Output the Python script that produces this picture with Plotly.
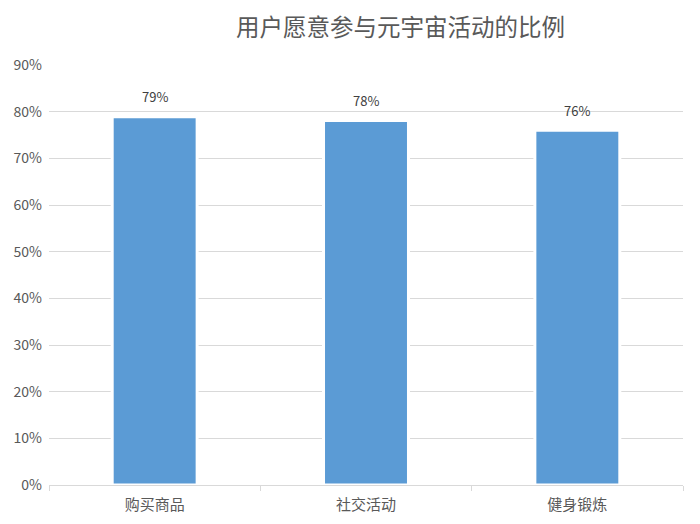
import plotly.graph_objects as go

# data
categories = ['购买商品', '社交活动', '健身锻炼']
ratios = [0.789, 0.781, 0.760]
labels = ['79%', '78%', '76%']
title_text = '用户愿意参与元宇宙活动的比例'

font_cn = 'Noto Sans CJK SC'
grey = '#595959'

fig = go.Figure()
fig.add_trace(go.Bar(
    x=categories,
    y=ratios,
    marker=dict(color='#5b9bd5', line=dict(color='white', width=3)),
    width=0.402,
    hoverinfo='skip',
))

# value labels above the bars
for cat, val, lab in zip(categories, ratios, labels):
    fig.add_annotation(
        x=cat, y=val, text=lab, showarrow=False,
        yshift=20, font=dict(family=font_cn, size=13, color='#404040'),
    )

# chart title, placed like the original (a bit right of the plot centre)
fig.add_annotation(
    text=title_text, showarrow=False,
    xref='paper', yref='paper', x=0.555, y=1.094,
    xanchor='center', yanchor='middle', borderpad=0,
    font=dict(family=font_cn, size=23.5, color=grey),
)

# page body has an 8px margin, so the figure is a bit smaller than the window
fig.update_layout(
    width=692, height=516,
    margin=dict(l=41, r=17, t=57, b=39, autoexpand=False),
    plot_bgcolor='white', paper_bgcolor='white',
    showlegend=False,
    xaxis=dict(
        showline=True, linecolor='#d9d9d9', linewidth=1,
        ticks='outside', tickson='boundaries', ticklen=5, tickcolor='#d9d9d9',
        tickfont=dict(family=font_cn, size=15, color=grey),
        ticklabelstandoff=6,
        automargin=False,
    ),
    yaxis=dict(
        range=[0, 0.9], dtick=0.1, tickformat='.0%',
        showgrid=True, gridcolor='#d9d9d9', gridwidth=1,
        zeroline=False, showline=False,
        tickfont=dict(family=font_cn, size=14, color=grey),
        ticklabelstandoff=6,
        automargin=False,
    ),
)

fig.write_html("out.html")
